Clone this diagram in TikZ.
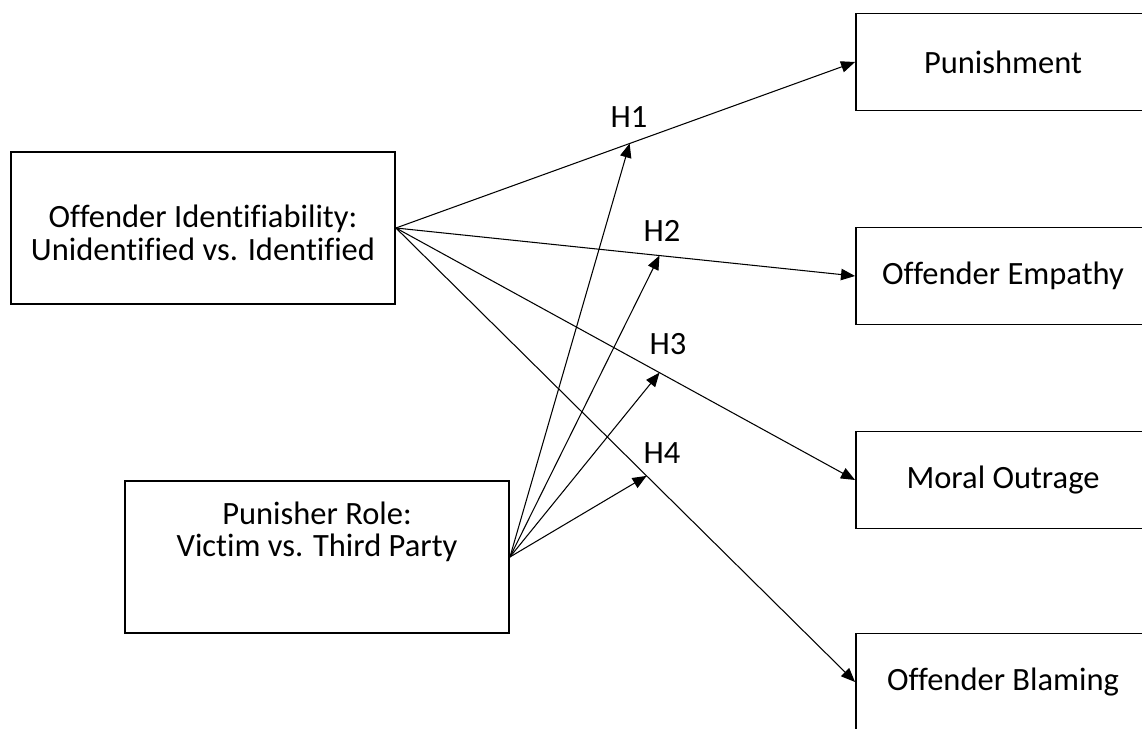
\documentclass[tikz,border=0pt]{standalone}
\usepackage{fontspec}
\setmainfont{Carlito}[Ligatures=NoCommon]
\usetikzlibrary{arrows.meta}

\begin{document}
\begin{tikzpicture}[x=0.02cm,y=-0.02cm,
    >={Triangle[length=8pt,width=6.5pt]},
    every node/.style={font=\fontsize{18.5}{18.5}\selectfont}]

      \useasboundingbox (0,0) rectangle (1142,729);

      % predictors
      \begin{scope}[every node/.style={draw,line width=1.1pt,align=center,
          minimum width=7.68cm,minimum height=3.04cm,
          font=\fontsize{18.5}{18.5}\selectfont}]
        \node (ident) at (203,228) {};
        \node (role)  at (317,557) {};
      \end{scope}
      \node[align=center] (identtext) at (203,233) {Offender Identifiability:\\Unidentified vs. Identified};
      \node[align=center] (roletext)  at (317,532) {Punisher Role:\\Victim vs. Third Party};

      % outcomes
      \begin{scope}[every node/.style={draw,line width=1.1pt,
          minimum width=5.88cm,minimum height=1.94cm,
          font=\fontsize{18.5}{18.5}\selectfont}]
        \node (punish)  at (1003,62)  {Punishment};
        \node (empathy) at (1003,276) {Offender Empathy};
        \node (outrage) at (1003,480) {Moral Outrage};
        \node (blame)   at (1003,682) {Offender Blaming};
      \end{scope}

      \begin{scope}[line width=0.6pt]
        \path (ident.east) edge[->] coordinate[pos=0.509] (h1) (punish.west);
        \path (ident.east) edge[->] coordinate[pos=0.574] (h2) (empathy.west);
        \path (ident.east) edge[->] coordinate[pos=0.574] (h3) (outrage.west);
        \path (ident.east) edge[->] coordinate[pos=0.546] (h4) (blame.west);

        \path (role.east) edge[->] (h1);
        \path (role.east) edge[->] (h2);
        \path (role.east) edge[->] (h3);
        \path (role.east) edge[->] (h4);
      \end{scope}

      \node (lab1) at (629,117) {H1};
      \node (lab2) at (662,231) {H2};
      \node (lab3) at (668,344) {H3};
      \node (lab4) at (662,453) {H4};

    \end{tikzpicture}
\end{document}
